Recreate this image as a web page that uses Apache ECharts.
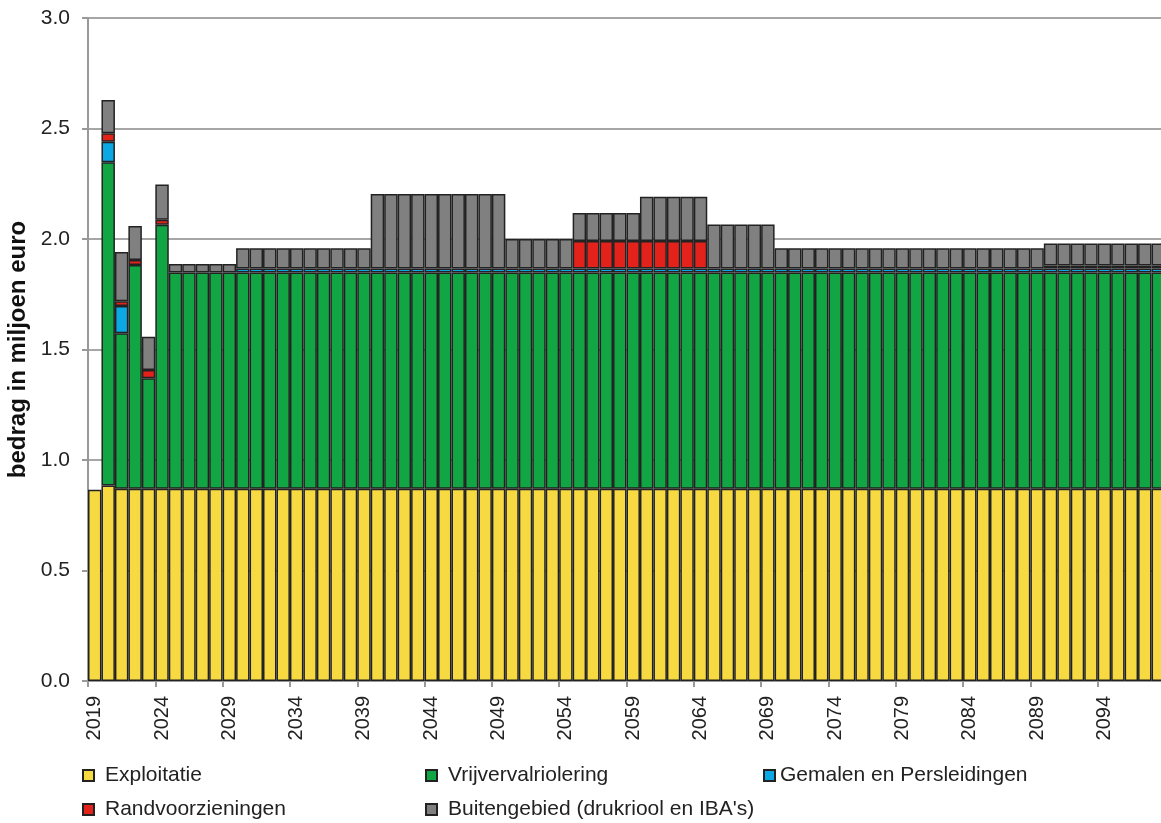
<!DOCTYPE html>
<html>
<head>
<meta charset="utf-8">
<script src="https://cdn.jsdelivr.net/npm/echarts@6/dist/echarts.min.js"></script>
<style>
  html, body { margin: 0; padding: 0; background: #fff; }
  #chart { width: 1161px; height: 823px; }
</style>
</head>
<body>
<div id="chart"></div>
<script>
// Jaren 2019 t/m 2098
const years = [];
for (let y = 2019; y <= 2098; y++) years.push(String(y));

// Bedragen in miljoen euro per jaar, per kostenpost
const exploitatie = [
  0.865, 0.885, 0.87, 0.87, 0.87, 0.87, 0.87, 0.87, 0.87, 0.87,
  0.87, 0.87, 0.87, 0.87, 0.87, 0.87, 0.87, 0.87, 0.87, 0.87,
  0.87, 0.87, 0.87, 0.87, 0.87, 0.87, 0.87, 0.87, 0.87, 0.87,
  0.87, 0.87, 0.87, 0.87, 0.87, 0.87, 0.87, 0.87, 0.87, 0.87,
  0.87, 0.87, 0.87, 0.87, 0.87, 0.87, 0.87, 0.87, 0.87, 0.87,
  0.87, 0.87, 0.87, 0.87, 0.87, 0.87, 0.87, 0.87, 0.87, 0.87,
  0.87, 0.87, 0.87, 0.87, 0.87, 0.87, 0.87, 0.87, 0.87, 0.87,
  0.87, 0.87, 0.87, 0.87, 0.87, 0.87, 0.87, 0.87, 0.87, 0.87
];
const vrijverval = [
  0, 1.462, 0.703, 1.012, 0.500, 1.195, 0.978, 0.978, 0.978, 0.978,
  0.978, 0.978, 0.978, 0.978, 0.978, 0.978, 0.978, 0.978, 0.978, 0.978,
  0.978, 0.978, 0.978, 0.978, 0.978, 0.978, 0.978, 0.978, 0.978, 0.978,
  0.978, 0.978, 0.978, 0.978, 0.978, 0.978, 0.978, 0.978, 0.978, 0.978,
  0.978, 0.978, 0.978, 0.978, 0.978, 0.978, 0.978, 0.978, 0.978, 0.978,
  0.978, 0.978, 0.978, 0.978, 0.978, 0.978, 0.978, 0.978, 0.978, 0.978,
  0.978, 0.978, 0.978, 0.978, 0.978, 0.978, 0.978, 0.978, 0.978, 0.978,
  0.978, 0.978, 0.978, 0.978, 0.978, 0.978, 0.978, 0.978, 0.978, 0.978
];
const gemalen = [
  0, 0.093, 0.124, 0, 0, 0, 0, 0, 0, 0,
  0, 0.018, 0.018, 0.018, 0.018, 0.018, 0.018, 0.018, 0.018, 0.018,
  0.018, 0.018, 0.018, 0.018, 0.018, 0.018, 0.018, 0.018, 0.018, 0.018,
  0.018, 0.018, 0.018, 0.018, 0.018, 0.018, 0.018, 0.018, 0.018, 0.018,
  0.018, 0.018, 0.018, 0.018, 0.018, 0.018, 0.018, 0.018, 0.018, 0.018,
  0.018, 0.018, 0.018, 0.018, 0.018, 0.018, 0.018, 0.018, 0.018, 0.018,
  0.018, 0.018, 0.018, 0.018, 0.018, 0.018, 0.018, 0.018, 0.018, 0.018,
  0.018, 0.018, 0.018, 0.018, 0.018, 0.018, 0.018, 0.018, 0.018, 0.018
];
const randvoorzieningen = [
  0, 0.038, 0.021, 0.023, 0.037, 0.022, 0, 0, 0, 0,
  0, 0, 0, 0, 0, 0, 0, 0, 0, 0,
  0, 0, 0, 0, 0, 0, 0, 0, 0, 0,
  0, 0, 0, 0, 0, 0, 0.125, 0.125, 0.125, 0.125,
  0.125, 0.125, 0.125, 0.125, 0.125, 0.125, 0, 0, 0, 0,
  0, 0, 0, 0, 0, 0, 0, 0, 0, 0,
  0, 0, 0, 0, 0, 0, 0, 0, 0, 0,
  0, 0.014, 0.014, 0.014, 0.014, 0.014, 0.014, 0.014, 0.014, 0.014
];
const buitengebied = [
  0, 0.151, 0.223, 0.154, 0.151, 0.160, 0.039, 0.039, 0.039, 0.039,
  0.039, 0.092, 0.092, 0.092, 0.092, 0.092, 0.092, 0.092, 0.092, 0.092,
  0.092, 0.338, 0.338, 0.338, 0.338, 0.338, 0.338, 0.338, 0.338, 0.338,
  0.338, 0.134, 0.134, 0.134, 0.134, 0.134, 0.127, 0.127, 0.127, 0.127,
  0.127, 0.200, 0.200, 0.200, 0.200, 0.200, 0.200, 0.200, 0.200, 0.200,
  0.200, 0.092, 0.092, 0.092, 0.092, 0.092, 0.092, 0.092, 0.092, 0.092,
  0.092, 0.092, 0.092, 0.092, 0.092, 0.092, 0.092, 0.092, 0.092, 0.092,
  0.092, 0.100, 0.100, 0.100, 0.100, 0.100, 0.100, 0.100, 0.100, 0.100
];

const seriesDefs = [
  { name: 'Exploitatie', data: exploitatie, color: '#f7da42' },
  { name: 'Vrijvervalriolering', data: vrijverval, color: '#12a544' },
  { name: 'Gemalen en Persleidingen', data: gemalen, color: '#0ba8e4' },
  { name: 'Randvoorzieningen', data: randvoorzieningen, color: '#e3221b' },
  { name: 'Buitengebied (drukriool en IBA\'s)', data: buitengebied, color: '#808080' }
];

const FONT = '"Liberation Sans", Arial, sans-serif';

// Legenda in twee rijen: [x, y] per item
const legendPos = [[82, 765], [425, 765], [763, 765], [82, 799], [425, 799]];

const chart = echarts.init(document.getElementById('chart'), null, { renderer: 'canvas' });

chart.setOption({
  animation: false,
  backgroundColor: '#ffffff',
  grid: { left: 88, right: -4, top: 18, bottom: 142, containLabel: false, outerBoundsMode: 'none' },
  legend: seriesDefs.map((s, i) => ({
    data: [s.name],
    left: legendPos[i][0],
    top: legendPos[i][1],
    icon: 'rect',
    itemWidth: 11,
    itemHeight: 11,
    padding: 0,
    textStyle: { fontFamily: FONT, fontSize: 21, color: '#222', padding: [0, 0, 0, i === 2 ? 0 : 6] }
  })),
  xAxis: {
    type: 'category',
    data: years,
    boundaryGap: true,
    axisLine: { show: true, lineStyle: { color: '#999', width: 2 } },
    axisTick: { show: true, interval: 4, length: 6, lineStyle: { color: '#999', width: 2 } },
    axisLabel: { interval: 4, rotate: 90, margin: 15, fontFamily: FONT, fontSize: 20, color: '#222' },
    splitLine: { show: false }
  },
  yAxis: {
    type: 'value',
    min: 0,
    max: 3,
    interval: 0.5,
    name: 'bedrag in miljoen euro',
    nameLocation: 'middle',
    nameGap: 52,
    nameTextStyle: { fontFamily: FONT, fontSize: 24, fontWeight: 'bold', color: '#111' },
    axisLine: { show: true, lineStyle: { color: '#999', width: 2 } },
    axisTick: { show: true, length: 6, lineStyle: { color: '#999', width: 2 } },
    axisLabel: { margin: 18, fontFamily: FONT, fontSize: 21, color: '#222', formatter: v => v.toFixed(1) },
    splitLine: { show: true, lineStyle: { color: '#a6a6a6', width: 2 } }
  },
  series: seriesDefs.map(s => ({
    name: s.name,
    type: 'bar',
    stack: 'totaal',
    barCategoryGap: 0,
    barGap: 0,
    data: s.data.map(v => (v > 0 ? v : null)),
    itemStyle: { color: s.color, borderColor: '#222', borderWidth: 1.5 }
  }))
});
</script>
</body>
</html>
